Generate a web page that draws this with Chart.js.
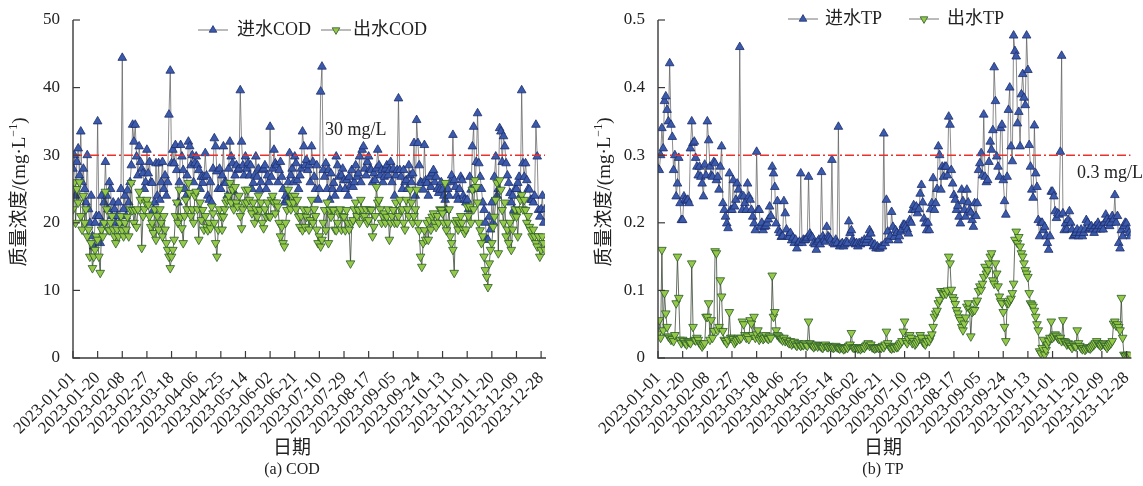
<!DOCTYPE html>
<html><head><meta charset="utf-8">
<script src="https://cdn.jsdelivr.net/npm/chart.js@4.4.1/dist/chart.umd.min.js"></script>
<style>
html,body{margin:0;padding:0;background:#fff;}
#wrap{position:relative;width:1143px;height:486px;overflow:hidden;background:#fff;}
canvas{position:absolute;top:0;}
</style></head><body>
<div id="wrap">
<canvas id="c1" width="580" height="486" style="left:0;width:580px;height:486px"></canvas>
<canvas id="c2" width="563" height="486" style="left:580px;width:563px;height:486px"></canvas>
</div>
<script>
const tickLabels = ['2023-01-01','2023-01-20','2023-02-08','2023-02-27','2023-03-18','2023-04-06','2023-04-25','2023-05-14','2023-06-02','2023-06-21','2023-07-10','2023-07-29','2023-08-17','2023-09-05','2023-09-24','2023-10-13','2023-11-01','2023-11-20','2023-12-09','2023-12-28'];

const codIn = [
28,30,24,29,31,27,33.5,26,28,25,23,30,22,20,24,18,16.5,20,21,
35,21,17,24,20,23,29,24,22,26,25,21,23,22,20,21,23,20,25,
44.4,22,24,21,24.8,23,26,28.5,34.5,32,34.5,29.8,27,31.3,29,28,27.3,25,26,
30.8,27.3,29,26,25.9,21.9,23,28.8,24,28.8,23.4,26,29,25,27,24,26,36,42.5,
28.8,30.8,28.8,31.5,27.8,23,26,31.5,29.8,27.8,25,23.9,27,32,31.3,28.5,30,26,28.8,
29.8,28.5,27.8,25,26.8,25.9,26.8,30.3,27,24,23.4,26,23,28,32.5,31.3,27.6,25,28,
25,27,31.3,26,25.9,24,28,32,29.8,28.8,24.6,27,28.5,27.8,28,39.6,32,28.5,27,
29.8,28,28.8,27,28.5,25,25.9,27,29.8,26.8,28,24.9,26,27.8,28,28.5,25,27,26,
34.2,26.8,28,30.8,28.8,28.5,26,27.8,29,26.8,25,23,24,23.4,26,30.3,27,28,26,
29.8,28.8,26.3,25,27,28,33.5,31.3,28.5,29.3,27.8,28.5,26,31.3,29,26.8,25,28.5,23.4,
25,39.4,43.1,27.8,26.8,28.8,25,27.8,23.4,27.3,25,25.9,24,29.8,28.5,26.8,25,27,28,
26.3,25,26.3,24,26.8,25.5,27.8,25.3,26,28.5,26.8,27.3,29.8,26,30.8,31.3,28,27,29,
29.8,28,27.8,26,27.3,26.3,28,30.8,28.5,27,27.8,26,26.8,28,28.5,27,27.8,29,26,
28,24,27,27.8,38.4,27.8,26.8,25,27.8,26,26.3,25,28.5,27,26,27.3,31.8,24,35.2,
31.8,28.5,26,25.9,24.9,31.5,26.3,25.9,24,26.8,25.3,27.3,27.8,26,26.8,25,24.4,24.9,26,
24.9,24,23.4,21.9,25,24,26,27,33,26.3,25.3,24,23.4,25,26.8,26.3,24,23.4,23,
23.4,22,26.8,24.9,31.3,34.2,25,29,36.2,28.8,26.8,25,23,21.9,20,17.5,17.5,20.9,19,
23,20,26.8,29.8,24,25,34,33.5,29,32.8,31.3,28.8,27,25.9,24.4,23,24,21.9,25,
25,25.9,26.8,24,39.6,28.8,26.8,28.8,26.3,25,24.9,23.4,23.4,23,24,34.5,29.8,21.9,20.9,
22,24,20,22];

const codOut = [
22,26,20,25,23,26,21,19,24,20,22,18,19,15,17,13.3,15,16,18,
17.5,15,12.6,19,18,20,24.6,22,19,18.9,20,21,19,18,17,19,18,20,21,
18.9,18,20,19,20.9,18,22,25.9,21.9,20,21.9,19.4,22,24.6,23.4,16.3,21,22,23,
23.4,22.7,21,19.4,20,18.5,22,17.5,21,19,22,20,18,21,19,17,16,15,13.3,
15,16,17.5,21,23,20,24.9,20.9,19.2,17,21,23.4,22,25.9,24.4,21,22,20,24,
24.6,22,17.5,23,20.4,21.9,19,21,19.4,18.9,20,19.2,22.4,21.4,20,17,15,19,22,
21,19,20.9,22,23,23.4,24,25.9,23,24.9,22,25.3,23,22.4,24,21,19.2,22,23,
24.9,23,24.9,23.4,22,21.4,23,20,22,20.9,24,21.9,23,20,19.2,22,20.9,23,21,
20.9,23.4,24,23,21.4,23,22.4,20,18,19.4,17,16.5,20,21.9,24.9,23,22,24,23,
24,22,23.4,20.9,19.4,21,18.9,22,19.4,20.9,21.9,19,20.4,23.4,20,22,21,19,17,
18,16.5,17.5,20,21.9,18.9,23,17,21.9,20.9,22,21.9,19,18.9,20,21.4,22,19,21,
20.9,18.9,21.9,20,19,14,20,20.4,22,23,21,21.9,20,23.4,22,20.9,21,22,20,
20.4,22,21.9,18,19.4,21,25.3,23,23.4,22,20,21,21.4,20,20.9,22,17.5,20,21,
21.9,20,23,20,21,23.4,21.9,22,20,19,23.4,22,21,24.9,23,20,21,22,24.9,
20,18.9,15,13.5,17,18.9,17.5,20,17.5,20.4,19,20.9,21.4,20,19.4,21,20,22,21.9,
21.4,20,25.9,18.9,20,22,18,17,16,12.6,20,20.4,19,20,21,20,19,18.5,19,
22.4,21,22.4,20,24.9,22,26.3,25.3,23,20,18.9,17,18,15,13,12,10.5,14,16,
17,19.4,20.9,23.4,25.9,15.5,26.3,24.9,21.9,20,23,18,19,17,20,16,19,21,22,
20.9,18,21.9,23.4,24.1,22,23.4,21.9,20,21,19.4,18.9,18,19,18,17,16.5,18,15,
16,18,17,16];

const tpIn = [
0.28,0.278,0.30,0.34,0.31,0.38,0.387,0.367,0.35,0.436,0.345,0.327,0.278,0.30,0.239,0.258,0.296,0.229,0.204,
0.204,0.239,0.234,0.232,0.234,0.229,0.31,0.35,0.318,0.32,0.296,0.283,0.27,0.283,0.268,0.258,0.239,0.286,0.27,
0.35,0.322,0.283,0.27,0.268,0.29,0.288,0.263,0.268,0.249,0.283,0.313,0.229,0.219,0.209,0.199,0.192,0.273,0.219,
0.219,0.263,0.224,0.234,0.258,0.249,0.46,0.239,0.219,0.239,0.229,0.219,0.258,0.239,0.234,0.219,0.209,0.199,0.189,
0.305,0.219,0.219,0.194,0.2,0.189,0.194,0.195,0.199,0.205,0.224,0.21,0.283,0.273,0.253,0.199,0.232,0.189,0.185,
0.179,0.18,0.232,0.214,0.19,0.18,0.179,0.185,0.174,0.178,0.17,0.175,0.162,0.17,0.172,0.273,0.17,0.175,0.174,
0.175,0.178,0.268,0.184,0.18,0.178,0.17,0.168,0.16,0.172,0.175,0.168,0.275,0.18,0.175,0.172,0.194,0.18,0.178,
0.175,0.293,0.17,0.168,0.175,0.17,0.342,0.165,0.168,0.17,0.165,0.168,0.172,0.17,0.202,0.185,0.189,0.175,0.17,
0.168,0.17,0.165,0.17,0.168,0.172,0.17,0.175,0.17,0.175,0.179,0.189,0.184,0.17,0.165,0.168,0.162,0.165,0.162,
0.162,0.165,0.165,0.332,0.17,0.234,0.187,0.174,0.18,0.216,0.194,0.179,0.189,0.185,0.174,0.18,0.187,0.19,0.197,
0.197,0.194,0.19,0.184,0.204,0.2,0.219,0.226,0.219,0.224,0.214,0.22,0.243,0.256,0.23,0.206,0.199,0.189,0.2,
0.189,0.22,0.229,0.266,0.219,0.229,0.25,0.313,0.3,0.249,0.283,0.268,0.283,0.283,0.27,0.357,0.345,0.278,0.258,
0.241,0.234,0.219,0.225,0.209,0.199,0.249,0.232,0.219,0.209,0.249,0.23,0.219,0.215,0.204,0.194,0.229,0.21,0.229,
0.278,0.288,0.303,0.27,0.36,0.268,0.26,0.263,0.29,0.32,0.308,0.337,0.43,0.38,0.298,0.283,0.268,0.34,0.345,
0.263,0.232,0.212,0.268,0.367,0.4,0.313,0.291,0.477,0.454,0.446,0.347,0.364,0.313,0.39,0.42,0.385,0.374,0.477,
0.426,0.315,0.283,0.249,0.237,0.344,0.273,0.253,0.204,0.18,0.2,0.2,0.189,0.194,0.18,0.17,0.16,0.18,0.246,
0.246,0.239,0.217,0.207,0.214,0.212,0.305,0.447,0.214,0.189,0.199,0.19,0.204,0.217,0.2,0.19,0.18,0.182,0.185,
0.19,0.18,0.185,0.19,0.18,0.185,0.19,0.204,0.2,0.19,0.192,0.195,0.19,0.185,0.195,0.19,0.2,0.195,0.19,
0.195,0.19,0.2,0.212,0.205,0.2,0.195,0.2,0.21,0.205,0.241,0.2,0.21,0.17,0.162,0.189,0.18,0.195,0.2,
0.199,0.19,0.185,0.18];

const tpOut = [
0.036,0.056,0.03,0.16,0.041,0.096,0.066,0.046,0.032,0.03,0.027,0.028,0.025,0.034,0.081,0.15,0.089,0.027,0.022,
0.027,0.025,0.022,0.02,0.025,0.024,0.022,0.14,0.046,0.027,0.026,0.03,0.027,0.022,0.02,0.017,0.02,0.022,0.061,
0.061,0.081,0.027,0.056,0.03,0.04,0.158,0.155,0.041,0.046,0.115,0.091,0.04,0.027,0.025,0.022,0.027,0.068,0.03,
0.03,0.028,0.022,0.025,0.027,0.03,0.028,0.03,0.054,0.05,0.034,0.03,0.032,0.028,0.056,0.051,0.034,0.061,0.03,
0.035,0.041,0.027,0.03,0.032,0.028,0.03,0.034,0.03,0.028,0.032,0.03,0.122,0.061,0.068,0.041,0.034,0.032,0.03,
0.028,0.026,0.03,0.025,0.027,0.024,0.022,0.025,0.02,0.022,0.024,0.02,0.018,0.022,0.02,0.018,0.02,0.019,0.022,
0.02,0.018,0.054,0.022,0.02,0.018,0.016,0.018,0.02,0.017,0.019,0.018,0.016,0.015,0.018,0.02,0.017,0.016,0.018,
0.016,0.017,0.015,0.016,0.018,0.016,0.015,0.014,0.016,0.015,0.013,0.014,0.016,0.015,0.018,0.02,0.037,0.016,0.015,
0.015,0.016,0.014,0.015,0.013,0.015,0.016,0.015,0.018,0.02,0.022,0.018,0.02,0.016,0.015,0.014,0.015,0.016,0.015,
0.016,0.015,0.018,0.016,0.02,0.039,0.022,0.018,0.015,0.014,0.016,0.015,0.018,0.016,0.017,0.02,0.022,0.025,0.039,
0.054,0.025,0.022,0.028,0.034,0.03,0.022,0.025,0.02,0.022,0.025,0.028,0.034,0.03,0.024,0.022,0.02,0.025,0.03,
0.025,0.03,0.035,0.046,0.061,0.066,0.07,0.081,0.086,0.099,0.096,0.094,0.099,0.095,0.1,0.15,0.14,0.101,0.09,
0.086,0.08,0.071,0.066,0.06,0.056,0.046,0.041,0.051,0.06,0.076,0.081,0.073,0.032,0.068,0.07,0.071,0.081,0.085,
0.099,0.106,0.101,0.11,0.12,0.135,0.125,0.13,0.14,0.15,0.155,0.115,0.11,0.14,0.125,0.106,0.091,0.084,0.081,
0.068,0.046,0.025,0.081,0.081,0.085,0.088,0.096,0.11,0.175,0.187,0.17,0.179,0.165,0.155,0.15,0.14,0.13,0.125,
0.12,0.096,0.081,0.079,0.076,0.07,0.061,0.05,0.041,0.01,0.007,0.015,0.027,0.005,0.012,0.02,0.025,0.03,0.054,
0.03,0.032,0.035,0.033,0.03,0.028,0.03,0.025,0.056,0.025,0.024,0.02,0.022,0.02,0.018,0.015,0.02,0.018,0.017,
0.041,0.022,0.018,0.015,0.013,0.015,0.012,0.014,0.016,0.015,0.014,0.016,0.018,0.02,0.022,0.025,0.022,0.02,0.018,
0.02,0.022,0.02,0.018,0.015,0.018,0.02,0.022,0.025,0.051,0.054,0.048,0.05,0.046,0.041,0.089,0.03,0.005,0.003,
0.004,0.005,0.004,0.005];

const FONT = "'Liberation Serif','Times New Roman','Noto Sans CJK SC',serif";
const DAY0 = Date.UTC(2023,0,1);
const tickDays = tickLabels.map(s => { const p = s.split('-'); return Math.round((Date.UTC(+p[0], +p[1]-1, +p[2]) - DAY0) / 86400000); });
const nDays = Math.max(codIn.length, codOut.length, tpIn.length, tpOut.length);
const dayIndex = Array.from({length: nDays}, (_, i) => i);

const IN_STYLE = { fill: '#3b5aab', stroke: '#1d2f6e', line: 'rgba(85,85,85,0.85)' };
const OUT_STYLE = { fill: '#96c947', stroke: '#2a5a2a', line: 'rgba(40,55,35,0.9)' };
const PR = 5;

function marker(ctx, x, y, style, rot) {
  ctx.save();
  ctx.fillStyle = style.fill; ctx.strokeStyle = style.stroke; ctx.lineWidth = 0.8;
  Chart.helpers.drawPoint(ctx, { pointStyle: 'triangle', rotation: rot, radius: 4.4, borderWidth: 0.8 }, x, y);
  ctx.restore();
}

function decor(o) {
  return {
    id: 'decor' + o.id,
    afterDatasetsDraw(chart) {
      const ctx = chart.ctx, a = chart.chartArea, xs = chart.scales.x, ys = chart.scales.y;
      ctx.save();
      const ry = ys.getPixelForValue(o.refValue);
      ctx.strokeStyle = '#e8322c'; ctx.lineWidth = 1.6; ctx.setLineDash([9, 3, 2, 3]);
      ctx.beginPath(); ctx.moveTo(a.left, ry); ctx.lineTo(a.right, ry); ctx.stroke();
      ctx.setLineDash([]);
      ctx.fillStyle = '#222'; ctx.font = '18px ' + FONT; ctx.textBaseline = 'middle'; ctx.textAlign = 'left';
      ctx.fillText(o.refText, o.refTextX, o.refTextY);
      ctx.strokeStyle = '#3a3a3a'; ctx.lineWidth = 1.4;
      ctx.beginPath(); ctx.moveTo(a.left, a.top); ctx.lineTo(a.left, a.bottom); ctx.lineTo(a.right + 1, a.bottom); ctx.stroke();
      ctx.lineWidth = 1.2;
      ys.ticks.forEach(t => { const y = ys.getPixelForValue(t.value); ctx.beginPath(); ctx.moveTo(a.left, y); ctx.lineTo(a.left + 7, y); ctx.stroke(); });
      tickDays.forEach(d => { const x = xs.getPixelForValue(d); ctx.beginPath(); ctx.moveTo(x, a.bottom); ctx.lineTo(x, a.bottom - 7); ctx.stroke(); });
      o.legend.forEach(it => {
        ctx.strokeStyle = '#777'; ctx.lineWidth = 1;
        ctx.beginPath(); ctx.moveTo(it.x - 15, o.legendY); ctx.lineTo(it.x + 15, o.legendY); ctx.stroke();
        marker(ctx, it.x, o.legendY, it.style, it.rot);
        ctx.fillStyle = '#222'; ctx.font = '18px ' + FONT; ctx.textAlign = 'left'; ctx.textBaseline = 'middle';
        ctx.fillText(it.text, it.tx, o.legendY);
      });
      ctx.save();
      ctx.translate(o.yTitleX, o.yTitleY); ctx.rotate(-Math.PI / 2);
      ctx.textBaseline = 'middle'; ctx.fillStyle = '#222';
      const p1 = '质量浓度/(mg·L', p2 = '−1', p3 = ')';
      ctx.font = '19px ' + FONT; const w1 = ctx.measureText(p1).width;
      ctx.font = '12px ' + FONT; const w2 = ctx.measureText(p2).width;
      ctx.font = '19px ' + FONT; const w3 = ctx.measureText(p3).width;
      const x0 = -(w1 + w2 + w3) / 2;
      ctx.textAlign = 'left';
      ctx.fillText(p1, x0, 0);
      ctx.font = '12px ' + FONT; ctx.fillText(p2, x0 + w1, -6);
      ctx.font = '19px ' + FONT; ctx.fillText(p3, x0 + w1 + w2, 0);
      ctx.restore();
      ctx.fillStyle = '#222'; ctx.textAlign = 'center'; ctx.textBaseline = 'middle';
      ctx.font = '19px ' + FONT; ctx.fillText('日期', o.xTitleX, o.xTitleY);
      ctx.font = '16px ' + FONT; ctx.fillText(o.caption, o.xTitleX, o.captionY);
      ctx.restore();
    }
  };
}

function makeChart(o) {
  return new Chart(document.getElementById(o.id), {
    type: 'line',
    data: {
      labels: dayIndex,
      datasets: [
        { label: o.outName, data: o.outData, borderColor: OUT_STYLE.line, borderWidth: 0.8, pointStyle: 'triangle', rotation: 180,
          pointRadius: PR, pointBackgroundColor: OUT_STYLE.fill, pointBorderColor: OUT_STYLE.stroke, pointBorderWidth: 0.8, tension: 0, fill: false },
        { label: o.inName, data: o.inData, borderColor: IN_STYLE.line, borderWidth: 0.8, pointStyle: 'triangle', rotation: 0,
          pointRadius: PR, pointBackgroundColor: IN_STYLE.fill, pointBorderColor: IN_STYLE.stroke, pointBorderWidth: 0.8, tension: 0, fill: false }
      ]
    },
    options: {
      responsive: false, animation: false, devicePixelRatio: 1,
      layout: { padding: { left: 0, right: o.padRight, top: 20, bottom: 0 } },
      plugins: { legend: { display: false }, tooltip: { enabled: false } },
      scales: {
        x: {
          type: 'linear', min: 0, max: nDays - 1,
          grid: { display: false }, border: { display: false },
          afterBuildTicks: s => { s.ticks = tickDays.map(v => ({ value: v })); },
          afterFit: s => { s.height = 128; },
          ticks: { autoSkip: false, minRotation: 45, maxRotation: 45, padding: 2, color: '#222',
                   font: { family: FONT, size: 17 }, callback: v => tickLabels[tickDays.indexOf(v)] }
        },
        y: {
          min: 0, max: o.yMax,
          grid: { display: false }, border: { display: false },
          afterFit: s => { s.width = o.axisLeft; },
          ticks: { stepSize: o.yStep, padding: 5, color: '#222', font: { family: FONT, size: 17 }, callback: o.yFmt }
        }
      }
    },
    plugins: [decor(o)]
  });
}

makeChart({
  id: 'c1', inData: codIn, outData: codOut, inName: '进水COD', outName: '出水COD',
  padRight: 580 - 545, axisLeft: 73, yMax: 50, yStep: 10, yFmt: v => String(Math.round(v)),
  refValue: 30, refText: '30 mg/L', refTextX: 325, refTextY: 130,
  legendY: 30, legend: [
    { x: 213, tx: 237, text: '进水COD', style: IN_STYLE, rot: 0 },
    { x: 336, tx: 353, text: '出水COD', style: OUT_STYLE, rot: 180 }
  ],
  yTitleX: 20, yTitleY: 192, xTitleX: 292, xTitleY: 449, captionY: 470, caption: '(a) COD'
});

makeChart({
  id: 'c2', inData: tpIn, outData: tpOut, inName: '进水TP', outName: '出水TP',
  padRight: 563 - 559, axisLeft: 78, yMax: 0.5, yStep: 0.1, yFmt: v => (Math.abs(v) < 1e-9 ? '0' : v.toFixed(1)),
  refValue: 0.3, refText: '0.3 mg/L', refTextX: 1077 - 580, refTextY: 173,
  legendY: 19, legend: [
    { x: 803 - 580, tx: 825 - 580, text: '进水TP', style: IN_STYLE, rot: 0 },
    { x: 924 - 580, tx: 947 - 580, text: '出水TP', style: OUT_STYLE, rot: 180 }
  ],
  yTitleX: 25, yTitleY: 192, xTitleX: 303, xTitleY: 449, captionY: 470, caption: '(b) TP'
});
</script>
</body></html>
